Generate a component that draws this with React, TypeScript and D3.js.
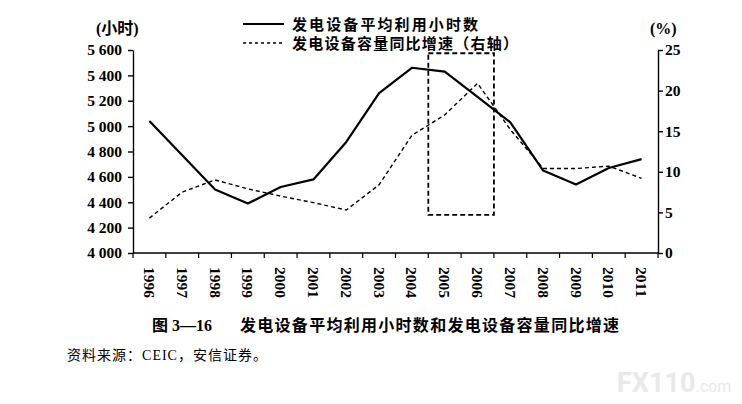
import { useEffect, useRef } from 'react';
import * as d3 from 'd3';

// Chart data
const years = ['1996', '1997', '1998', '1999', '2000', '2001', '2002', '2003',
  '2004', '2005', '2006', '2007', '2008', '2009', '2010', '2011'];
// average utilisation hours of generating equipment (left axis)
const hours = [5040, 4770, 4500, 4390, 4520, 4580, 4875, 5260,
  5460, 5430, 5230, 5030, 4650, 4540, 4670, 4740];
// yoy growth of installed capacity, % (right axis)
const growth = [4.3, 7.5, 9.0, 7.9, 7.0, 6.2, 5.3, 8.4,
  14.5, 17.0, 20.9, 15.2, 10.4, 10.4, 10.7, 9.2];
const hourTicks = [4000, 4200, 4400, 4600, 4800, 5000, 5200, 5400, 5600];
const pctTicks = [0, 5, 10, 15, 20, 25];
// dashed highlight box
const highlightYears = ['2005', '2006'];
const highlightRange = [4.7, 24.6];

const legendLabels = ['发电设备平均利用小时数', '发电设备容量同比增速（右轴）'];
const caption = '发电设备平均利用小时数和发电设备容量同比增速';
const source = '资料来源：CEIC，安信证券。';

const FONT = "'Liberation Serif', 'Noto Sans CJK SC', serif";
const CJK = "'Noto Sans CJK SC', sans-serif";

export default function App() {
  const svgRef = useRef<SVGSVGElement>(null);

  useEffect(() => {
    if (!svgRef.current) return;
    document.body.style.margin = '0';

    const svg = d3.select(svgRef.current);
    svg.selectAll('*').remove();

    const left = 133, right = 658, top = 50, bottom = 253;

    const x = d3.scaleBand<string>().domain(years).range([left, right]);
    const yL = d3.scaleLinear().domain([4000, 5600]).range([bottom, top]);
    const yR = d3.scaleLinear().domain([0, 25]).range([bottom, top]);
    const cx = (d: string) => (x(d) as number) + x.bandwidth() / 2;

    // Left axis
    const gL = svg.append('g')
      .attr('transform', `translate(${left},0)`)
      .call(d3.axisLeft(yL)
        .tickValues(hourTicks)
        .tickSize(5)
        .tickSizeOuter(0)
        .tickPadding(6)
        .tickFormat(d => d3.format(',')(d as number).replace(',', ' ')));
    gL.selectAll('text')
      .attr('font-family', FONT)
      .attr('font-weight', 'bold')
      .attr('font-size', 15.5)
      .attr('fill', '#000');
    gL.selectAll('line, path').attr('stroke', '#000').attr('stroke-width', 1.4);

    // Right axis
    const gR = svg.append('g')
      .attr('transform', `translate(${right},0)`)
      .call(d3.axisRight(yR)
        .tickValues(pctTicks)
        .tickSize(5)
        .tickSizeOuter(0)
        .tickPadding(2));
    gR.selectAll('text')
      .attr('font-family', FONT)
      .attr('font-weight', 'bold')
      .attr('font-size', 15.5)
      .attr('fill', '#000');
    gR.selectAll('line, path').attr('stroke', '#000').attr('stroke-width', 1.4);

    // Bottom axis: ticks at band edges, labels rotated
    const gB = svg.append('g').attr('transform', `translate(0,${bottom})`);
    gB.append('line')
      .attr('x1', left).attr('x2', right)
      .attr('stroke', '#000').attr('stroke-width', 1.4);
    const edges = [...years.map(d => x(d) as number), right];
    gB.selectAll('.tick')
      .data(edges)
      .enter()
      .append('line')
      .attr('x1', d => d).attr('x2', d => d)
      .attr('y1', 0).attr('y2', 5)
      .attr('stroke', '#000').attr('stroke-width', 1.2);
    gB.selectAll('.lbl')
      .data(years)
      .enter()
      .append('text')
      .attr('transform', d => `translate(${cx(d)},14) rotate(90)`)
      .attr('dy', '0.35em')
      .attr('text-anchor', 'start')
      .attr('font-family', FONT)
      .attr('font-weight', 'bold')
      .attr('font-size', 15.5)
      .text(d => d);

    // Highlight box
    const hx0 = x(highlightYears[0]) as number;
    const hx1 = (x(highlightYears[highlightYears.length - 1]) as number) + x.bandwidth();
    svg.append('rect')
      .attr('x', hx0)
      .attr('y', yR(highlightRange[1]))
      .attr('width', hx1 - hx0)
      .attr('height', yR(highlightRange[0]) - yR(highlightRange[1]))
      .attr('fill', 'none')
      .attr('stroke', '#000')
      .attr('stroke-width', 1.8)
      .attr('stroke-dasharray', '5,3');

    // Lines
    const lineL = d3.line<number>()
      .x((_, i) => cx(years[i]))
      .y(d => yL(d));
    const lineR = d3.line<number>()
      .x((_, i) => cx(years[i]))
      .y(d => yR(d));

    svg.append('path')
      .datum(growth)
      .attr('fill', 'none')
      .attr('stroke', '#000')
      .attr('stroke-width', 1.4)
      .attr('stroke-dasharray', '4,3')
      .attr('d', lineR);

    svg.append('path')
      .datum(hours)
      .attr('fill', 'none')
      .attr('stroke', '#000')
      .attr('stroke-width', 2.2)
      .attr('stroke-linejoin', 'round')
      .attr('d', lineL);

    // Axis units
    svg.append('text')
      .attr('x', 96).attr('y', 34)
      .attr('font-family', FONT)
      .attr('font-weight', 'bold')
      .attr('font-size', 16)
      .text('(小时)');
    svg.append('text')
      .attr('x', 650).attr('y', 34)
      .attr('font-family', FONT)
      .attr('font-weight', 'bold')
      .attr('font-size', 16)
      .text('(%)');

    // Legend
    const legend = svg.append('g');
    legendLabels.forEach((label, i) => {
      const ly = 24 + i * 19;
      legend.append('line')
        .attr('x1', 243).attr('x2', 284)
        .attr('y1', ly).attr('y2', ly)
        .attr('stroke', '#000')
        .attr('stroke-width', i === 0 ? 2.2 : 1.4)
        .attr('stroke-dasharray', i === 0 ? null : '3,3');
      legend.append('text')
        .attr('x', 292).attr('y', ly + 5.5)
        .attr('font-family', CJK)
        .attr('font-weight', 'bold')
        .attr('font-size', 15)
        .attr('textLength', i === 0 ? 186 : 226)
        .attr('lengthAdjust', 'spacing')
        .text(label);
    });

    // Caption
    svg.append('text')
      .attr('x', 152).attr('y', 331)
      .attr('font-family', FONT)
      .attr('font-weight', 'bold')
      .attr('font-size', 16)
      .text('图 3—16');
    svg.append('text')
      .attr('x', 240).attr('y', 331)
      .attr('font-family', CJK)
      .attr('font-weight', 'bold')
      .attr('font-size', 16)
      .attr('textLength', 379)
      .attr('lengthAdjust', 'spacing')
      .text(caption);

    // Source
    svg.append('text')
      .attr('x', 67).attr('y', 360)
      .attr('font-family', FONT)
      .attr('font-size', 14)
      .attr('textLength', 200)
      .attr('lengthAdjust', 'spacing')
      .text(source);

    // Watermark
    const wm = svg.append('text')
      .attr('x', 617).attr('y', 392)
      .attr('font-family', 'Roboto, sans-serif')
      .attr('fill', '#e9e9e9');
    wm.append('tspan')
      .attr('font-weight', 'bold')
      .attr('font-size', 27)
      .text('FX110');
    wm.append('tspan')
      .attr('font-size', 16)
      .text('.com');
  }, []);

  return (
    <svg
      ref={svgRef}
      width={742}
      height={404}
      style={{ display: 'block', background: '#fff' }}
    />
  );
}
